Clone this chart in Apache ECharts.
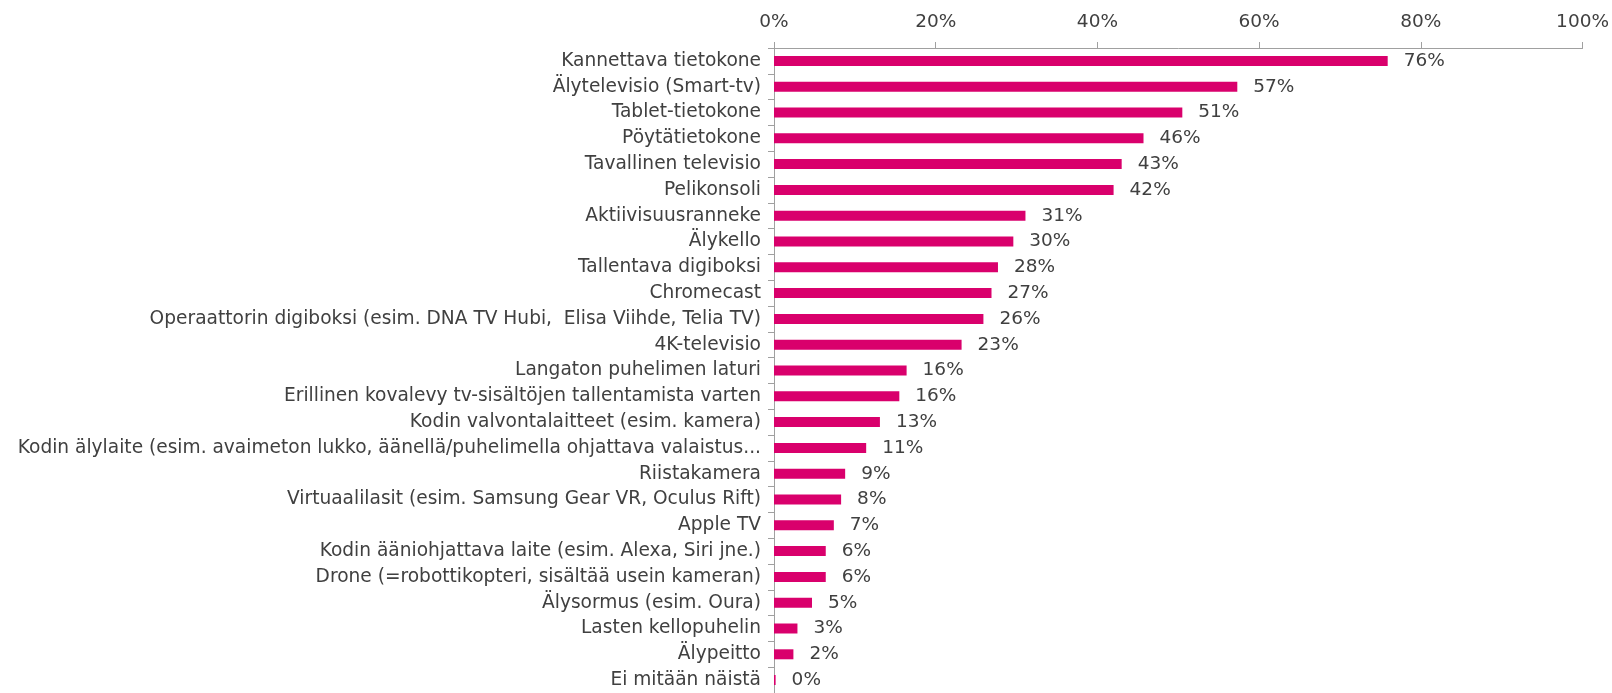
<!DOCTYPE html>
<html><head><meta charset="utf-8">
<style>html,body{margin:0;padding:0;background:#fff}#c{width:1612px;height:693px}</style>
<script src="https://cdn.jsdelivr.net/npm/echarts@6/dist/echarts.min.js"></script>
</head><body><div id="c"></div>
<script>
const categories = [
  "Kannettava tietokone",
  "Älytelevisio (Smart-tv)",
  "Tablet-tietokone",
  "Pöytätietokone",
  "Tavallinen televisio",
  "Pelikonsoli",
  "Aktiivisuusranneke",
  "Älykello",
  "Tallentava digiboksi",
  "Chromecast",
  "Operaattorin digiboksi (esim. DNA TV Hubi,  Elisa Viihde, Telia TV)",
  "4K-televisio",
  "Langaton puhelimen laturi",
  "Erillinen kovalevy tv-sisältöjen tallentamista varten",
  "Kodin valvontalaitteet (esim. kamera)",
  "Kodin älylaite (esim. avaimeton lukko, äänellä/puhelimella ohjattava valaistus...",
  "Riistakamera",
  "Virtuaalilasit (esim. Samsung Gear VR, Oculus Rift)",
  "Apple TV",
  "Kodin ääniohjattava laite (esim. Alexa, Siri jne.)",
  "Drone (=robottikopteri, sisältää usein kameran)",
  "Älysormus (esim. Oura)",
  "Lasten kellopuhelin",
  "Älypeitto",
  "Ei mitään näistä"
];
const values = [75.9, 57.3, 50.5, 45.7, 43.0, 42.0, 31.1, 29.6, 27.7, 26.9, 25.9, 23.2, 16.4, 15.5, 13.1, 11.4, 8.8, 8.3, 7.4, 6.4, 6.4, 4.7, 2.9, 2.4, 0.2];
const xTicks = [0, 20, 40, 60, 80, 100];

const FONT = "DejaVu Sans";
const TXT = "#404040";
const chart = echarts.init(document.getElementById('c'));
chart.setOption({
  animation: false,
  grid: { left: 774, right: 28, top: 48, height: 647, containLabel: false },
  xAxis: {
    type: 'value', position: 'top', min: 0, max: 100, interval: 20,
    axisLine: { show: true, lineStyle: { color: '#a0a0a0', width: 1 } },
    axisTick: { show: true, length: 6, lineStyle: { color: '#a0a0a0' } },
    splitLine: { show: false },
    axisLabel: { color: TXT, fontFamily: FONT, fontSize: 18.5, margin: 16,
      formatter: v => xTicks.includes(v) ? v + '%' : '' }
  },
  yAxis: {
    type: 'category', data: categories, inverse: true,
    axisLine: { show: true, lineStyle: { color: '#a0a0a0', width: 1 } },
    axisTick: { show: true, length: 6, lineStyle: { color: '#a0a0a0' } },
    axisLabel: { color: TXT, fontFamily: FONT, fontSize: 18.6, margin: 13 }
  },
  series: [{
    type: 'bar', data: values, barWidth: 10,
    itemStyle: { color: '#D9006C' },
    label: { show: true, position: 'right', distance: 16, color: TXT,
      fontFamily: FONT, fontSize: 18.5, formatter: p => Math.round(p.value) + '%' }
  }]
});
</script></body></html>
